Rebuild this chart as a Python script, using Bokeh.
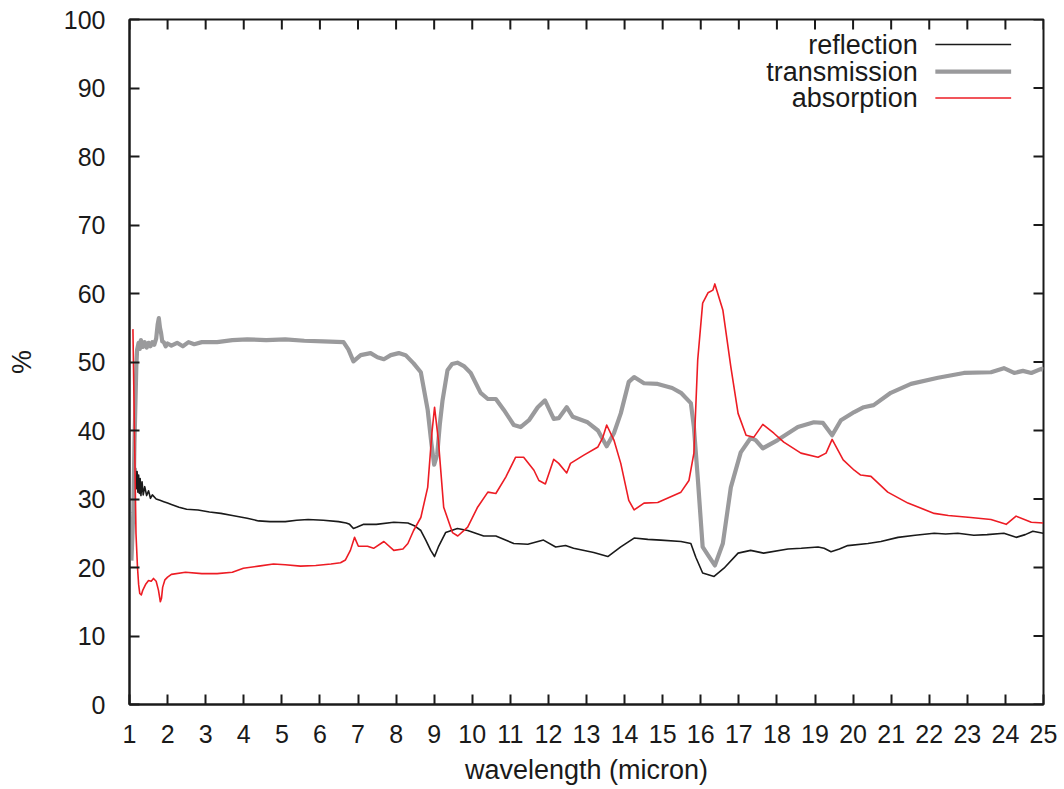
from bokeh.plotting import figure
from bokeh.models import Range1d, FixedTicker, Label
from bokeh.embed import file_html
from bokeh.resources import INLINE

# ---------------- data ----------------
refl_x = [1.14, 1.16, 1.18, 1.20, 1.22, 1.24, 1.26, 1.28, 1.30, 1.33,
          1.36, 1.40, 1.45, 1.50, 1.55, 1.60, 1.70, 1.80, 1.90, 2.00,
          2.10, 2.30, 2.50, 2.80, 3.10, 3.40, 3.70, 4.09, 4.39, 4.69,
          5.09, 5.39, 5.69, 6.09, 6.49, 6.69, 6.78, 6.88, 6.98, 7.15,
          7.48, 7.94, 8.31, 8.48, 8.65, 8.78, 8.91, 9.01, 9.11, 9.30,
          9.61, 9.88, 10.30, 10.62, 11.09, 11.46, 11.87, 12.19, 12.45, 12.66,
          13.19, 13.56, 13.90, 14.25, 14.61, 14.95, 15.48, 15.74, 15.87, 16.05,
          16.35, 16.61, 16.98, 17.31, 17.65, 18.29, 18.64, 19.08, 19.24, 19.42,
          19.64, 19.86, 20.39, 20.73, 21.18, 21.63, 22.13, 22.43, 22.75, 23.17,
          23.52, 23.96, 24.28, 24.52, 24.72, 24.99]
refl_y = [29.8, 34.5, 31.5, 34.0, 31.0, 33.5, 30.8, 33.0, 30.5, 32.5,
          30.6, 31.8, 30.5, 31.2, 30.1, 30.6, 30.0, 29.8, 29.6, 29.4,
          29.2, 28.8, 28.5, 28.4, 28.1, 27.9, 27.6, 27.2, 26.8, 26.7,
          26.7, 26.9, 27.0, 26.9, 26.7, 26.5, 26.3, 25.7, 25.9, 26.3,
          26.3, 26.6, 26.5, 26.1, 25.4, 24.0, 22.5, 21.6, 23.0, 25.1,
          25.7, 25.4, 24.6, 24.6, 23.5, 23.4, 24.0, 23.0, 23.2, 22.8,
          22.2, 21.6, 23.0, 24.3, 24.1, 24.0, 23.8, 23.5, 21.5, 19.2,
          18.7, 19.9, 22.1, 22.5, 22.1, 22.7, 22.8, 23.0, 22.8, 22.3,
          22.7, 23.2, 23.5, 23.8, 24.4, 24.7, 25.0, 24.9, 25.0, 24.7,
          24.8, 25.0, 24.4, 24.8, 25.3, 25.0]

trans_x = [1.05, 1.10, 1.13, 1.16, 1.18, 1.20, 1.24, 1.27, 1.30, 1.35,
           1.40, 1.45, 1.50, 1.55, 1.60, 1.65, 1.70, 1.74, 1.77, 1.80,
           1.83, 1.86, 1.90, 1.95, 2.00, 2.10, 2.25, 2.40, 2.55, 2.70,
           2.90, 3.30, 3.70, 4.09, 4.59, 5.09, 5.59, 6.09, 6.62, 6.75,
           6.88, 7.07, 7.33, 7.51, 7.68, 7.86, 8.07, 8.25, 8.46, 8.65,
           8.83, 8.93, 9.00, 9.08, 9.15, 9.22, 9.35, 9.47, 9.61, 9.78,
           9.96, 10.22, 10.41, 10.62, 10.83, 11.09, 11.27, 11.49, 11.72, 11.91,
           12.14, 12.27, 12.48, 12.64, 13.03, 13.30, 13.53, 13.72, 13.90, 14.11,
           14.25, 14.51, 14.87, 15.25, 15.48, 15.74, 15.82, 15.92, 16.05, 16.19,
           16.37, 16.58, 16.79, 17.05, 17.31, 17.44, 17.63, 18.02, 18.55, 18.97,
           19.21, 19.45, 19.68, 20.03, 20.28, 20.54, 20.99, 21.52, 22.23, 22.91,
           23.62, 23.96, 24.23, 24.46, 24.68, 24.94, 25.00]
trans_y = [21.0, 28.0, 38.0, 45.0, 49.5, 51.8, 52.8, 51.9, 53.2, 52.2,
           52.9, 52.1, 52.8, 52.3, 52.9, 52.5, 53.4, 55.5, 56.4, 55.0,
           54.2, 53.0, 52.9, 52.3, 52.7, 52.4, 52.8, 52.3, 52.9, 52.6,
           52.9, 52.9, 53.2, 53.3, 53.2, 53.3, 53.1, 53.0, 52.9, 51.8,
           50.1, 51.0, 51.3, 50.7, 50.4, 51.0, 51.3, 51.0, 49.8, 48.5,
           43.0, 38.0, 35.0, 36.5, 41.0, 44.4, 48.8, 49.7, 49.9, 49.4,
           48.4, 45.5, 44.6, 44.6, 43.0, 40.8, 40.5, 41.5, 43.4, 44.4,
           41.7, 41.8, 43.4, 42.0, 41.2, 40.0, 37.7, 39.6, 42.5, 47.1,
           47.8, 46.9, 46.8, 46.2, 45.5, 44.0, 40.5, 33.2, 23.0, 21.8,
           20.3, 23.5, 31.7, 36.8, 38.9, 38.6, 37.4, 38.6, 40.5, 41.2,
           41.1, 39.3, 41.5, 42.7, 43.4, 43.7, 45.5, 46.8, 47.7, 48.4,
           48.5, 49.1, 48.4, 48.7, 48.4, 49.0, 48.9]

abs_x = [1.09, 1.13, 1.17, 1.21, 1.24, 1.27, 1.31, 1.35, 1.43, 1.50,
         1.57, 1.63, 1.70, 1.76, 1.81, 1.84, 1.87, 1.93, 2.00, 2.10,
         2.47, 2.90, 3.30, 3.70, 3.99, 4.39, 4.78, 5.09, 5.49, 5.89,
         6.29, 6.54, 6.67, 6.80, 6.91, 7.01, 7.25, 7.41, 7.68, 7.94,
         8.18, 8.31, 8.46, 8.65, 8.83, 8.94, 9.01, 9.11, 9.25, 9.48,
         9.62, 9.88, 10.14, 10.41, 10.62, 10.88, 11.14, 11.35, 11.62, 11.75,
         11.92, 12.14, 12.27, 12.48, 12.58, 12.93, 13.30, 13.43, 13.53, 13.72,
         13.90, 14.11, 14.25, 14.51, 14.87, 15.48, 15.69, 15.82, 15.92, 16.05,
         16.19, 16.32, 16.37, 16.58, 16.79, 16.98, 17.19, 17.39, 17.63, 17.92,
         18.18, 18.63, 19.08, 19.29, 19.45, 19.74, 20.03, 20.20, 20.47, 20.91,
         21.44, 22.13, 22.50, 23.09, 23.62, 24.02, 24.28, 24.68, 24.99]
abs_y = [54.8, 40.0, 25.0, 20.0, 17.5, 16.2, 16.0, 16.7, 17.6, 18.1,
         18.0, 18.4, 18.0, 16.7, 15.0, 15.5, 17.1, 18.2, 18.6, 19.0,
         19.3, 19.1, 19.1, 19.3, 19.9, 20.2, 20.5, 20.4, 20.2, 20.3,
         20.5, 20.7, 21.1, 22.5, 24.4, 23.1, 23.1, 22.8, 23.8, 22.5,
         22.7, 23.5, 25.4, 27.3, 31.7, 39.6, 43.4, 38.6, 28.8, 25.1,
         24.6, 25.9, 28.8, 31.0, 30.8, 33.2, 36.1, 36.1, 34.2, 32.7,
         32.2, 35.8, 35.2, 33.8, 35.2, 36.4, 37.6, 39.0, 40.8, 38.6,
         35.2, 29.8, 28.4, 29.4, 29.5, 31.0, 32.7, 36.7, 50.3, 58.6,
         60.1, 60.5, 61.4, 57.6, 49.3, 42.5, 39.3, 39.0, 40.9, 39.6,
         38.3, 36.7, 36.1, 36.7, 38.7, 35.7, 34.2, 33.5, 33.3, 31.0,
         29.4, 27.9, 27.6, 27.3, 27.0, 26.3, 27.5, 26.6, 26.5]

series_names = ["reflection", "transmission", "absorption"]
x_ticks = list(range(1, 26))
y_ticks = list(range(0, 101, 10))
X_MIN, X_MAX, Y_MIN, Y_MAX = 1, 25, 0, 100

# ---------------- styling / layout ----------------
FONT = "Liberation Sans"
INK = "#1a1a1a"
COLORS = {"reflection": "#1a1a1a", "transmission": "#9a9a9c", "absorption": "#ed1c24"}
WIDTHS = {"reflection": 1.6, "transmission": 4.2, "absorption": 1.6}

W, H = 1063, 787
B_LEFT, B_RIGHT, B_TOP, B_BOTTOM = 129, 20, 19, 83
FRAME_W = W - B_LEFT - B_RIGHT
FRAME_H = H - B_TOP - B_BOTTOM
TICK_PX = 10

p = figure(width=W, height=H, output_backend="svg", toolbar_location=None,
           x_range=Range1d(X_MIN, X_MAX), y_range=Range1d(Y_MIN, Y_MAX),
           min_border_left=B_LEFT, min_border_right=B_RIGHT,
           min_border_top=B_TOP, min_border_bottom=B_BOTTOM)
p.xgrid.visible = False
p.ygrid.visible = False
p.outline_line_color = INK
p.outline_line_width = 2
p.background_fill_color = "white"
p.border_fill_color = "white"

for ax, ticks in ((p.xaxis[0], x_ticks), (p.yaxis[0], y_ticks)):
    ax.ticker = FixedTicker(ticks=ticks)
    ax.major_tick_in = TICK_PX
    ax.major_tick_out = 0
    ax.minor_tick_line_color = None
    ax.major_tick_line_color = INK
    ax.major_tick_line_width = 2
    ax.axis_line_color = INK
    ax.axis_line_width = 2
    ax.major_label_text_font = FONT
    ax.major_label_text_font_size = "25px"
    ax.major_label_text_color = INK
    ax.axis_label_text_font = FONT
    ax.axis_label_text_font_size = "27px"
    ax.axis_label_text_font_style = "normal"
    ax.axis_label_text_color = INK

p.xaxis[0].axis_label = "wavelength (micron)"
p.yaxis[0].axis_label = "%"
p.xaxis[0].major_label_standoff = 20
p.xaxis[0].axis_label_standoff = 9
p.yaxis[0].major_label_standoff = 24
p.yaxis[0].axis_label_standoff = 24

# mirrored inward ticks on the top and right edges (derived from the tick lists)
dy_tick = TICK_PX * (Y_MAX - Y_MIN) / FRAME_H
dx_tick = TICK_PX * (X_MAX - X_MIN) / FRAME_W
p.segment(x0=x_ticks, y0=[Y_MAX] * len(x_ticks), x1=x_ticks, y1=[Y_MAX - dy_tick] * len(x_ticks),
          line_color=INK, line_width=2)
p.segment(x0=[X_MAX] * len(y_ticks), y0=y_ticks, x1=[X_MAX - dx_tick] * len(y_ticks), y1=y_ticks,
          line_color=INK, line_width=2)

data = {
    "reflection": (refl_x, refl_y),
    "transmission": (trans_x, trans_y),
    "absorption": (abs_x, abs_y),
}
for name in series_names:
    xs, ys = data[name]
    p.line(xs, ys, line_color=COLORS[name], line_width=WIDTHS[name], line_join="round")

# ---------------- legend (label left of sample, as in reference) ----------------
leg_rows_y = [96.35, 92.4, 88.55]
leg_text_x = 21.70
leg_line_x0, leg_line_x1 = 22.16, 24.15
for name, yy in zip(series_names, leg_rows_y):
    p.add_layout(Label(x=leg_text_x, y=yy, text=name, text_align="right",
                       text_baseline="middle", text_font=FONT, text_font_size="27px",
                       text_color=INK))
    p.line([leg_line_x0, leg_line_x1], [yy, yy], line_color=COLORS[name],
           line_width=WIDTHS[name])

open("out.html", "w").write(file_html(p, INLINE))
